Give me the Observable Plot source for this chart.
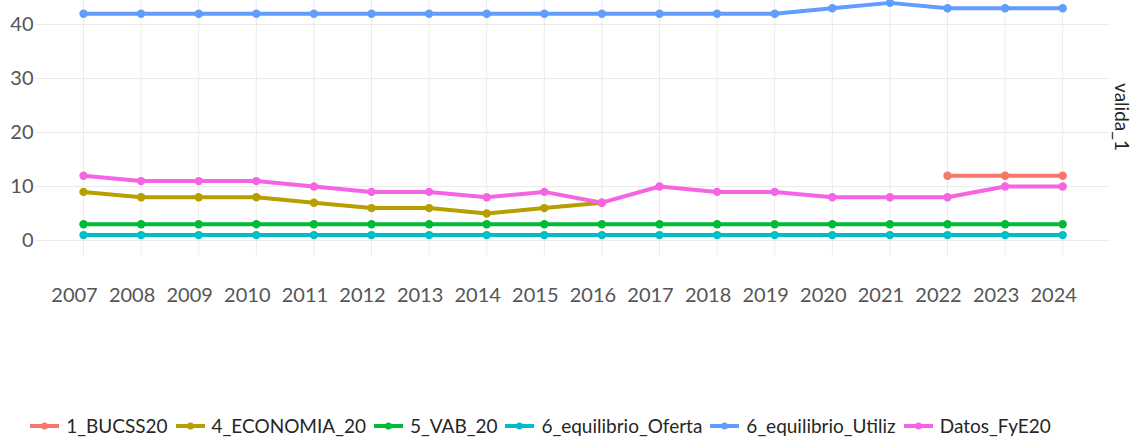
<!DOCTYPE html>
<html><head><meta charset="utf-8">
<script src="https://cdn.jsdelivr.net/npm/d3@7"></script>
<script src="https://cdn.jsdelivr.net/npm/@observablehq/plot@0.6"></script>
<style>
body{margin:0;background:#fff;font-family:Lato,"Open Sans",sans-serif;overflow:hidden;}
#chart{height:320px;}
#legend{display:flex;justify-content:center;align-items:center;gap:7px;margin-top:95px;height:22px;line-height:22px;font-size:19px;color:#262626;padding-right:54px;}
.item{display:flex;align-items:center;gap:6px;}
</style></head><body><div id="chart"></div><div id="legend"></div>
<script>
const years = [2007,2008,2009,2010,2011,2012,2013,2014,2015,2016,2017,2018,2019,2020,2021,2022,2023,2024];
const seriesNames = ["1_BUCSS20","4_ECONOMIA_20","5_VAB_20","6_equilibrio_Oferta","6_equilibrio_Utiliz","Datos_FyE20"];
const seriesColors = ["#F8766D","#B79F00","#00BA38","#00BFC4","#619CFF","#F564E3"];
const bucss20      = [null,null,null,null,null,null,null,null,null,null,null,null,null,null,null,12,12,12];
const economia20   = [9,8,8,8,7,6,6,5,6,7,null,null,null,null,null,null,null,null];
const vab20        = [3,3,3,3,3,3,3,3,3,3,3,3,3,3,3,3,3,3];
const eqOferta     = [1,1,1,1,1,1,1,1,1,1,1,1,1,1,1,1,1,1];
const eqUtiliz     = [42,42,42,42,42,42,42,42,42,42,42,42,42,43,44,43,43,43];
const datosFyE20   = [12,11,11,11,10,9,9,8,9,7,10,9,9,8,8,8,10,10];
const yTicks = [0,10,20,30,40];
const yLabel = "valida_1";

const allSeries = [bucss20, economia20, vab20, eqOferta, eqUtiliz, datosFyE20];
const rows = [];
allSeries.forEach((vals, i) => vals.forEach((v, j) => {
  if (v != null) rows.push({series: seriesNames[i], year: years[j], value: v});
}));

const font = 'Lato, "Open Sans", sans-serif';
const chart = Plot.plot({
  width: 1134, height: 320,
  marginLeft: 36, marginRight: 24, marginTop: 0, marginBottom: 65,
  style: {fontFamily: font, background: "#fff"},
  x: {domain: [2006.184, 2024.83]},
  y: {domain: [-2.78, 44.44]},
  color: {domain: seriesNames, range: seriesColors},
  marks: [
    Plot.gridY(yTicks, {stroke: "#ebebeb", strokeOpacity: 1, strokeWidth: 1}),
    Plot.gridX(years, {stroke: "#ebebeb", strokeOpacity: 1, strokeWidth: 1}),
    Plot.axisY(yTicks, {tickSize: 0, tickPadding: 3, fontSize: 20, fill: "#555", label: null, tickFormat: d => String(d)}),
    Plot.axisX(years, {tickSize: 0, tickPadding: 32, dx: -9, fontSize: 20, fill: "#555", label: null, tickFormat: d => String(d)}),
    Plot.line(rows, {x: "year", y: "value", z: "series", stroke: "series", strokeWidth: 4}),
    Plot.dot(rows, {x: "year", y: "value", fill: "series", r: 4.2}),
    Plot.text([yLabel], {frameAnchor: "right", rotate: 90, textAnchor: "middle", dx: 11, dy: -11, fontSize: 19, fill: "#262626", text: d => d})
  ]
});
document.getElementById("chart").appendChild(chart);

const legend = d3.select("#legend");
seriesNames.forEach((name, i) => {
  const it = legend.append("div").attr("class", "item");
  const s = it.append("svg").attr("width", 31).attr("height", 12);
  s.append("line").attr("x1", 1).attr("x2", 30).attr("y1", 6).attr("y2", 6)
    .attr("stroke", seriesColors[i]).attr("stroke-width", 4);
  s.append("circle").attr("cx", 15.5).attr("cy", 6).attr("r", 3.5).attr("fill", seriesColors[i]);
  it.append("span").text(name);
});
</script></body></html>
